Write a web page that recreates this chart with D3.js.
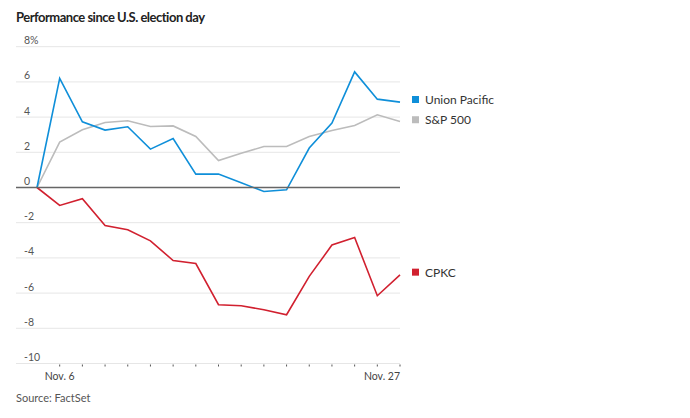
<!DOCTYPE html>
<html>
<head>
<meta charset="utf-8">
<script src="https://cdn.jsdelivr.net/npm/d3@7"></script>
<style>
  html, body { margin: 0; padding: 0; background: #fff; }
  svg { display: block; font-family: Lato, "Noto Sans", sans-serif; }
</style>
</head>
<body>
<svg id="chart" width="690" height="418"></svg>
<script>
const dates = ["Nov. 5","Nov. 6","Nov. 7","Nov. 8","Nov. 11","Nov. 12","Nov. 13","Nov. 14","Nov. 15",
               "Nov. 18","Nov. 19","Nov. 20","Nov. 21","Nov. 22","Nov. 25","Nov. 26","Nov. 27"];
const unionPacific = [0, 6.2, 3.73, 3.26, 3.45, 2.18, 2.78, 0.76, 0.76, 0.27, -0.23, -0.13, 2.24, 3.66, 6.57, 5.02, 4.85];
const sp500 = [0, 2.58, 3.28, 3.69, 3.79, 3.47, 3.5, 2.9, 1.53, 1.94, 2.33, 2.33, 2.9, 3.24, 3.52, 4.13, 3.75];
const cpkc = [0, -1.02, -0.64, -2.16, -2.4, -3.03, -4.15, -4.32, -6.66, -6.72, -6.95, -7.23, -5.05, -3.27, -2.84, -6.15, -4.96];
const yTicks = [8, 6, 4, 2, 0, -2, -4, -6, -8, -10];
const xLabels = ["Nov. 6", "Nov. 27"];
const seriesNames = ["Union Pacific", "S&P 500", "CPKC"];
const seriesColors = ["#0f8fd9", "#bcbcbc", "#d1202f"];

const svg = d3.select("#chart");
const x = d3.scalePoint().domain(dates).range([37, 400]);
const y = d3.scaleLinear().domain([-10, 8]).range([363.5, 46.7]);

svg.append("text").attr("x", 16).attr("y", 22)
  .attr("font-size", 13).attr("font-weight", 700).attr("fill", "#222")
  .attr("letter-spacing", -0.5)
  .text("Performance since U.S. election day");

// gridlines
const g = svg.append("g");
g.selectAll("line.grid").data(yTicks.filter(d => d !== 0)).join("line")
  .attr("x1", 16).attr("x2", 400)
  .attr("y1", d => y(d)).attr("y2", d => y(d))
  .attr("stroke", "#e6e6e6").attr("stroke-width", 1);
g.selectAll("text.ylab").data(yTicks).join("text")
  .attr("x", 24).attr("y", d => y(d) - 2.5)
  .attr("font-size", 10.5).attr("fill", "#555")
  .text(d => d === 8 ? "8%" : String(d));

// x ticks
const tickDates = dates.slice(1);
g.selectAll("line.xt").data(tickDates).join("line")
  .attr("x1", d => x(d)).attr("x2", d => x(d))
  .attr("y1", y(-10) + 1).attr("y2", y(-10) + 3)
  .attr("stroke", "#555").attr("stroke-width", 1);
g.append("text").attr("x", x("Nov. 6")).attr("y", 379.5).attr("text-anchor", "middle")
  .attr("font-size", 10.5).attr("fill", "#444").text(xLabels[0]);
g.append("text").attr("x", x("Nov. 27")).attr("y", 379.5).attr("text-anchor", "end")
  .attr("font-size", 10.5).attr("fill", "#444").text(xLabels[1]);

// lines
const line = d3.line().x((d, i) => x(dates[i])).y(d => y(d));
const allSeries = [sp500, cpkc, unionPacific];
const order = [1, 2, 0];
allSeries.forEach((s, k) => {
  svg.append("path").datum(s).attr("d", line).attr("fill", "none")
    .attr("stroke", seriesColors[order[k]]).attr("stroke-width", 1.6)
    .attr("stroke-linejoin", "miter");
});

// zero line
svg.append("line").attr("x1", 16).attr("x2", 400).attr("y1", y(0)).attr("y2", y(0))
  .attr("stroke", "#666").attr("stroke-width", 1.3);

// legend
const legendData = [
  { name: seriesNames[0], color: seriesColors[0], v: unionPacific[16] + 0.15 },
  { name: seriesNames[1], color: seriesColors[1], v: sp500[16] + 0.1 },
  { name: seriesNames[2], color: seriesColors[2], v: cpkc[16] + 0.15 }
];
const lg = svg.selectAll("g.leg").data(legendData).join("g")
  .attr("transform", d => `translate(0,${y(d.v)})`);
lg.append("rect").attr("x", 412).attr("y", -3.5).attr("width", 7).attr("height", 7)
  .attr("fill", d => d.color);
lg.append("text").attr("x", 425).attr("y", 4.5).attr("font-size", 12).attr("fill", "#333")
  .text(d => d.name);

svg.append("text").attr("x", 16).attr("y", 401.5).attr("font-size", 11).attr("fill", "#555")
  .text("Source: FactSet");
</script>
</body>
</html>
